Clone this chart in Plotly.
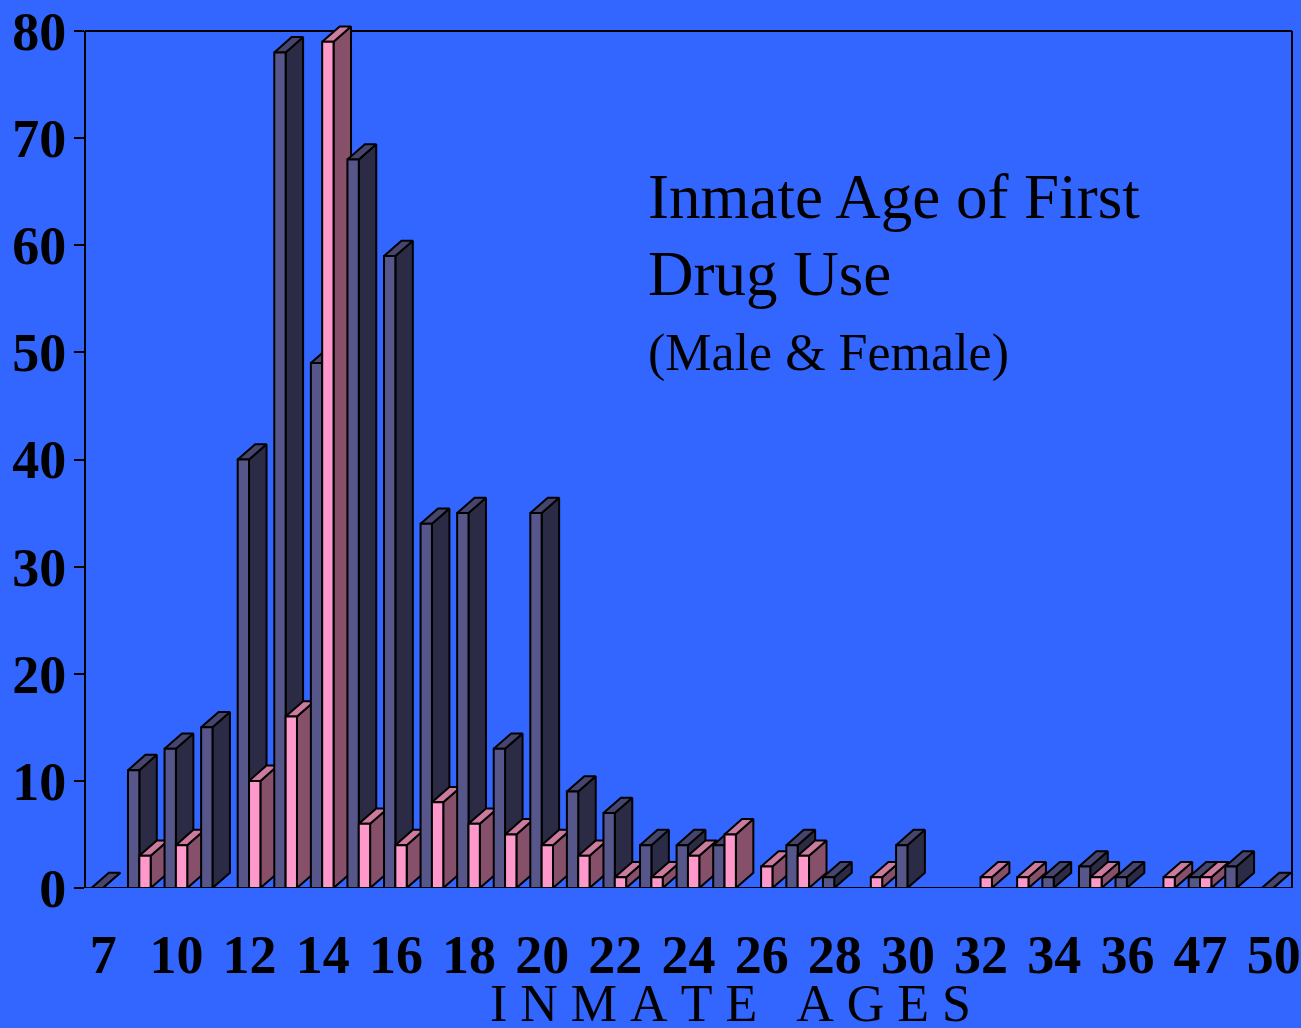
import plotly.graph_objects as go

# ---------------- data ----------------
ages = ["7", "9", "10", "11", "12", "13", "14", "15", "16", "17", "18", "19", "20",
        "21", "22", "23", "24", "25", "26", "27", "28", "29", "30", "31", "32", "33",
        "34", "35", "36", "40", "47", "48", "50"]
male = [0, 11, 13, 15, 40, 78, 49, 68, 59, 34, 35, 13, 35, 9, 7, 4, 4, 4, None, 4,
        1, None, 4, None, None, None, 1, 2, 1, None, 1, 2, 0]
female = [None, 3, 4, None, 10, 16, 79, 6, 4, 8, 6, 5, 4, 3, 1, 1, 3, 5, 2, 3,
          None, 1, None, None, 1, 1, None, 1, None, 1, 1, None, None]
tick_labels = ages[::2]
y_ticks = [0, 10, 20, 30, 40, 50, 60, 70, 80]

# ---------------- style ----------------
BG = "#3366FF"
FONT = "Liberation Serif, Times New Roman, serif"
MALE_COLORS = dict(front="#56568A", side="#2B2B46", top="#45456E")
FEMALE_COLORS = dict(front="#FF99CC", side="#86506B", top="#CC7A9E")
BAR_W = 0.31
MALE_OFF = -0.325
FEMALE_OFF = -0.015
DEPTH_X = 0.478
DEPTH_Y = 1.43
OUTLINE = 2

W, H = 1301, 1028
M_L, M_R, M_T, M_B = 85, 9, 10, 140
PX_PER_UNIT = (888 - 31) / 80.0
Y_TOP = (H - M_T - M_B) / PX_PER_UNIT

fig = go.Figure()


def poly(xs, ys, color):
    fig.add_trace(go.Scatter(
        x=xs + [xs[0]], y=ys + [ys[0]], mode="lines", fill="toself",
        fillcolor=color, line=dict(color="black", width=OUTLINE),
        hoverinfo="skip", showlegend=False))


def bar3d(i, v, off, colors):
    x0 = i + off
    x1 = x0 + BAR_W
    # side face
    poly([x1, x1 + DEPTH_X, x1 + DEPTH_X, x1], [0, DEPTH_Y, v + DEPTH_Y, v], colors["side"])
    # top face
    poly([x0, x1, x1 + DEPTH_X, x0 + DEPTH_X], [v, v, v + DEPTH_Y, v + DEPTH_Y], colors["top"])
    # front face
    if v > 0:
        poly([x0, x1, x1, x0], [0, 0, v, v], colors["front"])


for i in range(len(ages)):
    if male[i] is not None:
        bar3d(i, male[i], MALE_OFF, MALE_COLORS)
    if female[i] is not None:
        bar3d(i, female[i], FEMALE_OFF, FEMALE_COLORS)

frame = dict(color="black", width=2)
shapes = [
    dict(type="line", xref="paper", yref="y", x0=0, x1=0, y0=0, y1=80, line=frame, layer="below"),
    dict(type="line", xref="paper", yref="y", x0=1, x1=1, y0=0, y1=80, line=frame, layer="below"),
    dict(type="line", xref="paper", yref="y", x0=0, x1=1, y0=80, y1=80, line=frame, layer="below"),
    dict(type="line", xref="paper", yref="y", x0=0, x1=1, y0=0, y1=0, line=frame, layer="below"),
]

plot_h = H - M_T - M_B


def py_to_paper(py):
    return (H - M_B - py) / plot_h


def px_to_paper(px):
    return (px - M_L) / (W - M_L - M_R)


annotations = [
    dict(text="Inmate Age of First", xref="paper", yref="paper",
         x=px_to_paper(646), y=py_to_paper(218 - 0.3375 * 63), xanchor="left", yanchor="middle",
         showarrow=False, font=dict(family=FONT, size=63, color="black")),
    dict(text="Drug Use", xref="paper", yref="paper",
         x=px_to_paper(646), y=py_to_paper(295 - 0.3375 * 63), xanchor="left", yanchor="middle",
         showarrow=False, font=dict(family=FONT, size=63, color="black")),
    dict(text="(Male &amp; Female)", xref="paper", yref="paper",
         x=px_to_paper(646), y=py_to_paper(371 - 0.3375 * 52), xanchor="left", yanchor="middle",
         showarrow=False, font=dict(family=FONT, size=52, color="black")),
    dict(text="\u00a0".join(list("INMATE")) + "\u00a0\u00a0\u00a0" + "\u00a0".join(list("AGES")),
         xref="paper", yref="paper",
         x=px_to_paper(730), y=py_to_paper(1021 - 0.3375 * 52), xanchor="center", yanchor="middle",
         showarrow=False, font=dict(family=FONT, size=52, color="black")),
]

fig.update_layout(
    width=W, height=H, autosize=False,
    margin=dict(l=M_L, r=M_R, t=M_T, b=M_B, pad=0),
    paper_bgcolor=BG, plot_bgcolor=BG,
    showlegend=False,
    shapes=shapes,
    annotations=annotations,
    xaxis=dict(range=[-0.5, len(ages) - 0.5], tickmode="array",
               tickvals=list(range(0, len(ages), 2)), ticktext=tick_labels,
               showgrid=False, zeroline=False, showline=False, ticks="",
               ticklabelstandoff=30, automargin=False,
               tickfont=dict(family=FONT, size=54, color="black", weight="bold")),
    yaxis=dict(range=[0, Y_TOP], tickmode="array", tickvals=y_ticks,
               showgrid=False, zeroline=False, showline=False,
               ticks="outside", ticklen=10, tickwidth=2, tickcolor="black",
               ticklabelstandoff=-3, automargin=False,
               tickfont=dict(family=FONT, size=54, color="black", weight="bold")),
)

fig.write_html(
    "out.html",
    config={"displayModeBar": False, "staticPlot": True},
    post_script="document.body.style.margin='0';document.body.style.background='" + BG + "';",
)
